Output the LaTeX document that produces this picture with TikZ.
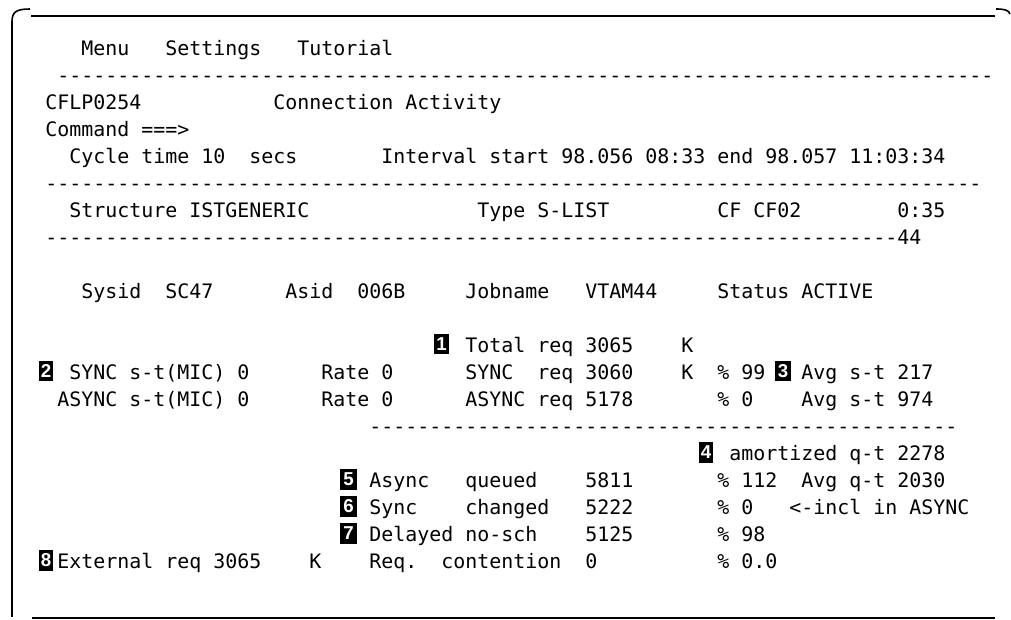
\documentclass[tikz,border=0pt]{standalone}
\usepackage{fontspec}
\newfontfamily\scr{DejaVu Sans Mono}[Ligatures=TeXOff]
\newfontfamily\bdgfont{Liberation Sans}[Ligatures=TeXOff]
\newcommand\dashrun[1]{\foreach\i in {1,...,#1}{-}}
\newcommand\fld[4]{\node[txt] (#1) at ({45+12*(#2)},{55+27.05*(#3)}) {#4};}
\newcommand\bdg[4]{\node[bdg,minimum width=#4] (b#1) at (#2,{55+27.05*(#3)-8.5}) {\textbf{#1}};}
\begin{document}
\begin{tikzpicture}[x=0.75pt,y=-0.75pt,
  txt/.style={anchor=base west,inner sep=0pt,font=\scr\fontsize{14.95}{18}\selectfont},
  bdg/.style={fill=black,text=white,inner sep=0pt,minimum height=15.5pt,font=\bdgfont\fontsize{14}{15}\selectfont},
  frame/.style={line width=1.2pt,line cap=butt}]
\useasboundingbox (0,0) rectangle (1011,619);
% frame
\draw[frame] (12,22) .. controls (12,12) and (16,9) .. (30,9);
\draw[frame] (12,22) -- (12,617);
\draw[frame] (31,16) -- (995,16);
\draw[frame] (996,9) .. controls (1004,9) and (1009,10) .. (1010,14);
\draw[frame] (32,618) -- (995,618);
% row 0
\fld{menu}{3}{0}{Menu}
\fld{settings}{10}{0}{Settings}
\fld{tutorial}{21}{0}{Tutorial}
% row 1
\fld{dA}{1}{1}{\dashrun{78}}
% row 2
\fld{panel}{0}{2}{CFLP0254}
\fld{title}{19}{2}{Connection~Activity}
% row 3
\fld{cmd}{0}{3}{Command~===>}
% row 4
\fld{cycle}{2}{4}{Cycle~time~10~~secs}
\fld{interval}{28}{4}{Interval~start~98.056~08:33~end~98.057~11:03:34}
% row 5
\fld{dB}{0}{5}{\dashrun{78}}
% row 6
\fld{struct}{2}{6}{Structure~ISTGENERIC}
\fld{type}{36}{6}{Type~S-LIST}
\fld{cf}{56}{6}{CF~CF02}
\fld{time}{71}{6}{0:35}
% row 7
\fld{dC}{0}{7}{\dashrun{71}44}
% row 9
\fld{sysid}{3}{9}{Sysid}
\fld{sc}{10}{9}{SC47}
\fld{asid}{20}{9}{Asid}
\fld{asidv}{26}{9}{006B}
\fld{job}{35}{9}{Jobname}
\fld{jobv}{45}{9}{VTAM44}
\fld{status}{56}{9}{Status~ACTIVE}
% row 11
\bdg{1}{441.5}{11}{11pt}
\fld{total}{35}{11}{Total~req~3065}
\fld{totk}{53}{11}{K}
% row 12
\bdg{2}{46}{12}{11pt}
\fld{syncst}{2}{12}{SYNC~s-t(MIC)~0}
\fld{rateA}{23}{12}{Rate~0}
\fld{syncreq}{35}{12}{SYNC~~req~3060}
\fld{synck}{53}{12}{K}
\fld{syncpct}{56}{12}{\%~99}
\bdg{3}{783}{12}{12.5pt}
\fld{avgA}{63}{12}{Avg~s-t~217}
% row 13
\fld{asyncst}{1}{13}{ASYNC~s-t(MIC)~0}
\fld{rateB}{23}{13}{Rate~0}
\fld{asyncreq}{35}{13}{ASYNC~req~5178}
\fld{asyncpct}{56}{13}{\%~0}
\fld{avgB}{63}{13}{Avg~s-t~974}
% row 14
\fld{dD}{27}{14}{\dashrun{49}}
% row 15
\bdg{4}{706}{15}{11pt}
\fld{amort}{57}{15}{amortized~q-t~2278}
% row 16
\bdg{5}{348.5}{16}{12.5pt}
\fld{async}{27}{16}{Async}
\fld{queued}{35}{16}{queued}
\fld{queuedv}{45}{16}{5811}
\fld{queuedp}{56}{16}{\%~112}
\fld{avgq}{63}{16}{Avg~q-t~2030}
% row 17
\bdg{6}{348.5}{17}{12.5pt}
\fld{sync}{27}{17}{Sync}
\fld{changed}{35}{17}{changed}
\fld{changedv}{45}{17}{5222}
\fld{changedp}{56}{17}{\%~0}
\fld{incl}{62}{17}{<-incl~in~ASYNC}
% row 18
\bdg{7}{348.5}{18}{12.5pt}
\fld{delayed}{27}{18}{Delayed~no-sch}
\fld{delayedv}{45}{18}{5125}
\fld{delayedp}{56}{18}{\%~98}
% row 19
\bdg{8}{46}{19}{11pt}
\fld{ext}{1}{19}{External~req~3065}
\fld{extk}{22}{19}{K}
\fld{reqc}{27}{19}{Req.}
\fld{cont}{33}{19}{contention}
\fld{contv}{45}{19}{0}
\fld{contp}{56}{19}{\%~0.0}
\end{tikzpicture}
\end{document}
